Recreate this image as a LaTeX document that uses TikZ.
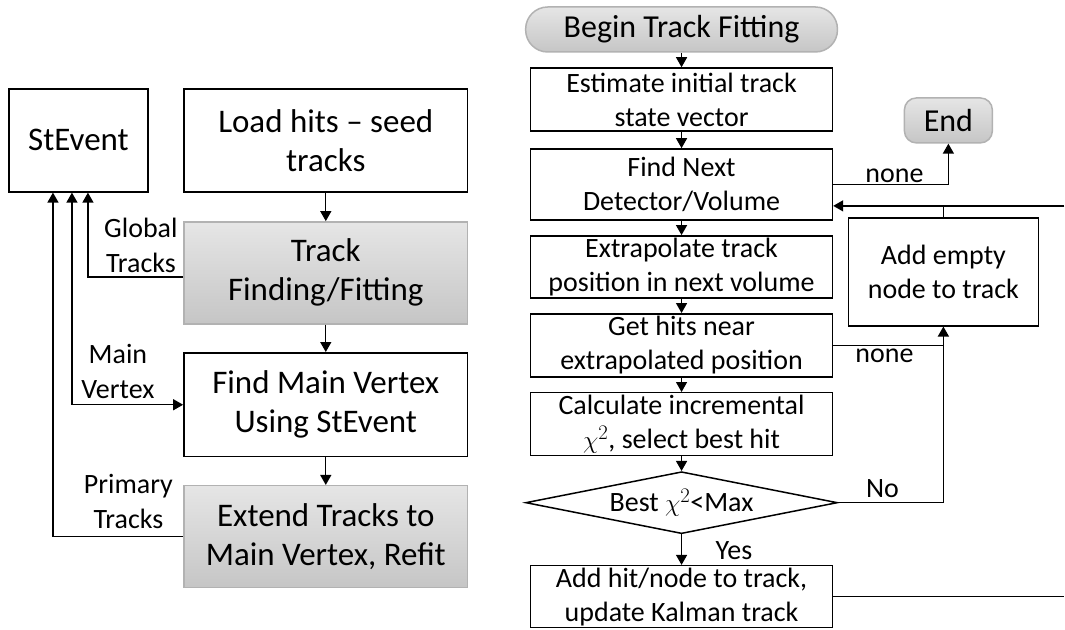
\documentclass[tikz,border=0pt]{standalone}
\usepackage{fontspec}
\setmainfont{Carlito}
\usetikzlibrary{arrows.meta,shapes.geometric,calc}

\tikzset{
	box/.style={draw, line width=1.5pt, align=center, inner sep=0pt},
	shadebox/.style={box, draw=gray!60, top color=gray!20, bottom color=gray!45},
	bigtxt/.style={font=\fontsize{33}{39}\selectfont},
	midtxt/.style={font=\fontsize{32}{37}\selectfont},
	smalltxt/.style={font=\fontsize{28}{34}\selectfont},
	lbl/.style={align=center, inner sep=0pt, font=\fontsize{28}{35}\selectfont},
	arr/.style={line width=1.4pt, -{Triangle[length=10pt,width=11pt]}},
	dblarr/.style={line width=1.4pt, {Triangle[length=10pt,width=11pt]}-{Triangle[length=10pt,width=11pt]}},
	link/.style={line width=1.4pt},
}

\begin{document}
\begin{tikzpicture}[x=1pt,y=-1pt]
		\fill[white] (0,0) rectangle (1065,630);
		
		% left chain
		\node[box, bigtxt, minimum width=139pt, minimum height=103pt] (stevent) at (78.5,140.5) {StEvent};
		\node[box, bigtxt, minimum width=284pt, minimum height=103pt] (load) at (326,140.5) {Load hits -- seed\\tracks};
		\node[shadebox, bigtxt, minimum width=284pt, minimum height=102pt] (trkfit) at (326,273) {Track\\Finding/Fitting};
		\node[box, bigtxt, minimum width=284pt, minimum height=104pt] (mainvtx) at (326,405) {Find Main Vertex\\Using StEvent};
		\node[shadebox, bigtxt, minimum width=284pt, minimum height=102pt] (extend) at (326,537) {Extend Tracks to\\Main Vertex, Refit};
		
		\foreach \a/\b in {load/trkfit, trkfit/mainvtx, mainvtx/extend}
			\draw[arr] (\a) -- (\b);
		
		\draw[arr] ([yshift=-4pt]trkfit.west) -| ([xshift=9.5pt]stevent.south);
		\draw[dblarr] (mainvtx.west) -| ([xshift=-6.5pt]stevent.south);
		\draw[arr] (extend.west) -| ([xshift=-25.5pt]stevent.south);
		
		\node[lbl, anchor=south] (globlbl) at (141,273) {Global\\Tracks};
		\node[lbl, anchor=south] (vtxlbl) at (118,399) {Main\\Vertex};
		\node[lbl, anchor=south] (primlbl) at (128.5,529) {Primary\\Tracks};
		
		% right chain
		\node[shadebox, midtxt, minimum width=312pt, minimum height=45pt, rounded corners=22pt] (begin) at (682,29.5) {Begin Track Fitting};
		\node[box, smalltxt, minimum width=302pt, minimum height=63pt] (estim) at (682,99.5) {Estimate initial track\\state vector};
		\node[box, smalltxt, minimum width=302pt, minimum height=71pt] (nextdet) at (682,184.5) {Find Next\\Detector/Volume};
		\node[box, smalltxt, minimum width=302pt, minimum height=62pt] (extrap) at (682,267) {Extrapolate track\\position in next volume};
		\node[box, smalltxt, minimum width=302pt, minimum height=63pt] (gethits) at (682,345.5) {Get hits near\\extrapolated position};
		\node[box, smalltxt, minimum width=302pt, minimum height=63pt] (calc) at (682,424.5) {Calculate incremental\\$\chi^2$, select best hit};
		\node[box, smalltxt, diamond, aspect=5, minimum width=312pt, minimum height=62pt] (best) at (682,503) {Best $\chi^2$<Max};
		\node[box, smalltxt, minimum width=302pt, minimum height=62pt] (addhit) at (682,597) {Add hit/node to track,\\update Kalman track};
		
		\node[shadebox, midtxt, minimum width=88pt, minimum height=45pt, rounded corners=12pt] (endnode) at (949,120.5) {End};
		\node[box, smalltxt, minimum width=190pt, minimum height=108pt] (empty) at (944,272) {Add empty\\node to track};
		
		\foreach \a/\b in {begin/estim, estim/nextdet, nextdet/extrap, extrap/gethits, gethits/calc, calc/best, best/addhit}
			\draw[arr] (\a) -- (\b);
		
		\coordinate (loopin) at (1065,206);
		\coordinate (loopout) at (1065,596);
		
		\draw[arr] (nextdet.east) -| (endnode.south);
		\draw[arr] (loopin) -- (loopin -| nextdet.east);
		\draw[link] (empty.north) -- (empty.north |- loopin);
		\draw[arr] (gethits.east) -| (empty.south);
		\draw[link] (best.east) -| (empty.south |- gethits.east);
		\draw[link] (addhit.east) -- (addhit.east -| loopout);
		
		\node[lbl, anchor=south] (none1) at (895,183) {none};
		\node[lbl, anchor=north] (none2) at (885,349) {none};
		\node[lbl, anchor=south] (nolbl) at (883,498) {No};
		\node[lbl, anchor=west] (yeslbl) at (716,551) {Yes};
	\end{tikzpicture}
\end{document}
